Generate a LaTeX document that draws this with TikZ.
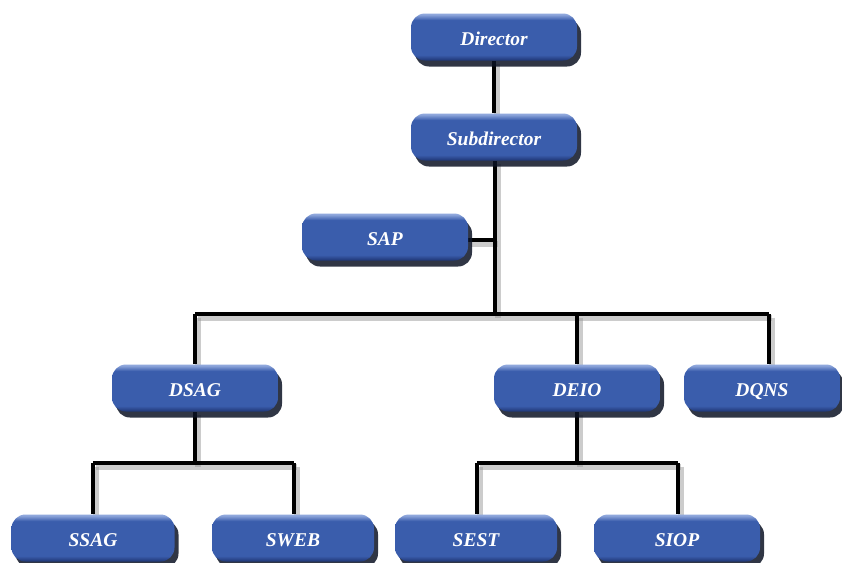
\documentclass[tikz,border=0pt]{standalone}
\usepackage{fontspec}
\setmainfont{Liberation Serif}
\usetikzlibrary{shadows,backgrounds}

\definecolor{boxbody}{HTML}{3A5DAC}
\definecolor{boxdark}{HTML}{1F3674}
\definecolor{boxlight}{HTML}{8FA7DC}
\definecolor{boxshadow}{HTML}{0C1324}

% glossy vertical shading: light rim on top, dark rim at the bottom
\pgfdeclareverticalshading{gloss}{100bp}{%
  color(0bp)=(boxdark); color(25bp)=(boxdark); color(31bp)=(boxbody);
  color(68bp)=(boxbody); color(74bp)=(boxlight); color(100bp)=(boxlight)}

\tikzset{
  unit/.style={rectangle, rounded corners=14pt, minimum width=166pt,
    minimum height=47pt, inner sep=0pt, shading=gloss, draw=none,
    text height=17pt, text depth=0pt,
    text=white, font=\fontsize{19.5}{20}\selectfont\bfseries\itshape,
    drop shadow={shadow xshift=4pt, shadow yshift=-6pt, fill=boxshadow,
      opacity=0.85}},
  link/.style={draw=black, line width=4.2pt},
  linkshade/.style={draw=black!40, line width=6pt, opacity=0.5,
    transform canvas={xshift=2.5pt, yshift=-3.5pt}}
}

\begin{document}
\begin{tikzpicture}[x=1pt, y=-1pt]
  \useasboundingbox (0,0) rectangle (842,562);
  \clip (0,0) rectangle (842,562);

  % units
  \node[unit] (dir)  at (494,37)  {Director};
  \node[unit] (sub)  at (494,137) {Subdirector};
  \node[unit] (sap)  at (385,237) {SAP};
  \node[unit] (dsag) at (195,388) {DSAG};
  \node[unit] (deio) at (577,388) {DEIO};
  \node[unit, minimum width=156pt] (dqns) at (762,388) {DQNS};
  \node[unit, minimum width=163pt] (ssag) at (93,538)  {SSAG};
  \node[unit, minimum width=162pt] (sweb) at (293,538) {SWEB};
  \node[unit, minimum width=162pt] (sest) at (476,538) {SEST};
  \node[unit] (siop) at (677,538) {SIOP};

  % junction points of the branch lines
  \coordinate (trunk) at (495,314);
  \coordinate (sapj)  at (495,240);
  \coordinate (barL)  at (195,314);
  \coordinate (barDE) at (577,314);
  \coordinate (barR)  at (769,314);
  \coordinate (dsj)   at (195,463);
  \coordinate (dsL)   at (93,463);
  \coordinate (dsR)   at (294,463);
  \coordinate (dej)   at (577,463);
  \coordinate (deL)   at (477,463);
  \coordinate (deR)   at (678,463);

  \begin{scope}[on background layer]
    \foreach \s in {linkshade, link} {
      \draw[\s] (dir) -- (sub);
      \draw[\s] (sub.south -| trunk) -- (trunk);
      \draw[\s] (sap.east |- sapj) -- (sapj);
      \draw[\s] (barL) -- (barR);
      \draw[\s] (barL) -- (dsag.north);
      \draw[\s] (barDE) -- (deio.north);
      \draw[\s] (barR) -- (barR |- dqns.north);
      \draw[\s] (dsag.south) -- (dsj);
      \draw[\s] (dsL) -- (dsR);
      \draw[\s] (dsL) -- (dsL |- ssag.north);
      \draw[\s] (dsR) -- (dsR |- sweb.north);
      \draw[\s] (deio.south) -- (dej);
      \draw[\s] (deL) -- (deR);
      \draw[\s] (deL) -- (deL |- sest.north);
      \draw[\s] (deR) -- (deR |- siop.north);
    }
  \end{scope}
\end{tikzpicture}
\end{document}
